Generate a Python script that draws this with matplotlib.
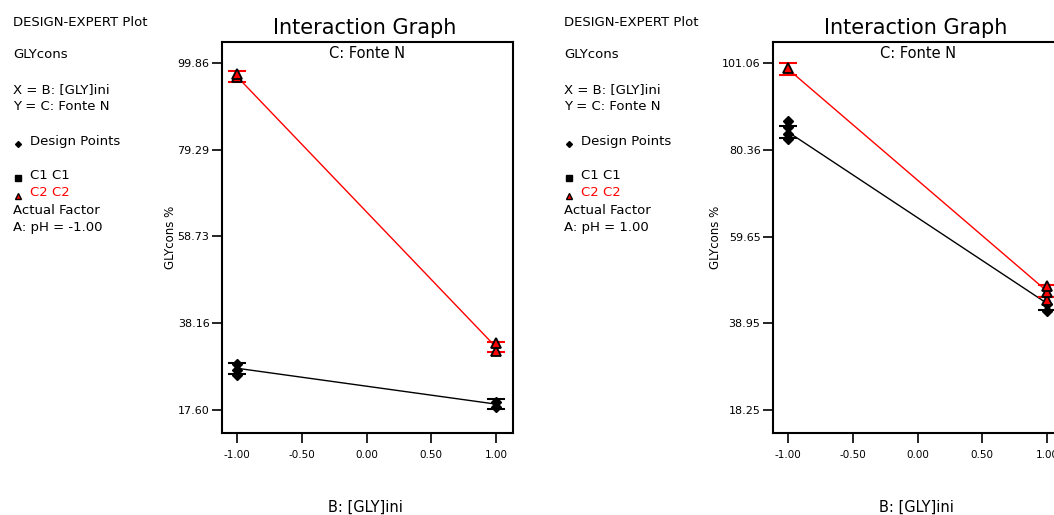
import numpy as np
import matplotlib
matplotlib.use('Agg')
import matplotlib.pyplot as plt

# ---------------------------------------------------------------------------
# Interaction of B ([GLY]ini) and C (Fonte N) on GLYcons, at two pH levels
# ---------------------------------------------------------------------------

x_levels = [-1.0, 1.0]
x_ticks = [-1.00, -0.50, 0.00, 0.50, 1.00]

# pH = -1.00
ph_low_label = "A: pH = -1.00"
ph_low_yticks = [17.60, 38.16, 58.73, 79.29, 99.86]
ph_low_ylim = (12.16, 104.8)
ph_low_c1_pred = [27.5, 19.0]
ph_low_c2_pred = [96.6, 32.5]
ph_low_c1_lsd = [1.3, 1.2]
ph_low_c2_lsd = [1.3, 1.2]
ph_low_c1_pts = [[26.0, 27.2, 28.6], [18.4, 19.4]]
ph_low_c2_pts = [[96.4, 97.2], [31.6, 33.4]]

# pH = 1.00
ph_high_label = "A: pH = 1.00"
ph_high_yticks = [18.25, 38.95, 59.65, 80.36, 101.06]
ph_high_ylim = (12.78, 106.06)
ph_high_c1_pred = [84.6, 43.7]
ph_high_c2_pred = [99.6, 46.6]
ph_high_c1_lsd = [1.4, 1.5]
ph_high_c2_lsd = [1.4, 1.4]
ph_high_c1_pts = [[82.8, 84.2, 85.8, 87.2], [42.0, 43.6]]
ph_high_c2_pts = [[99.8], [44.6, 46.4, 47.8]]

W, H = 1054, 515
FONT = 'DejaVu Sans'


def px_rect(left, top, right, bottom):
    return [left / W, 1 - bottom / H, (right - left) / W, (bottom - top) / H]


def side_notes(fig, x0, ph_label):
    def t(x, y, s, color='black'):
        fig.text(x / W, 1 - y / H, s, fontsize=9.5, color=color,
                 family=FONT, va='center', ha='left')
    t(x0, 22, 'DESIGN-EXPERT Plot')
    t(x0, 55, 'GLYcons')
    t(x0, 90, 'X = B: [GLY]ini')
    t(x0, 106, 'Y = C: Fonte N')
    t(x0 + 17, 141, 'Design Points')
    t(x0 + 17, 175, 'C1 C1')
    t(x0 + 17, 192, 'C2 C2', color='red')
    t(x0, 210, 'Actual Factor')
    t(x0, 227, ph_label)
    # legend glyphs
    gx = (x0 + 5) / W
    fig.lines.append(plt.Line2D([gx], [1 - 144 / H], marker='D', ms=3,
                                color='black', transform=fig.transFigure))
    fig.lines.append(plt.Line2D([gx], [1 - 178 / H], marker='s', ms=4,
                                color='black', transform=fig.transFigure))
    fig.lines.append(plt.Line2D([gx], [1 - 196 / H], marker='^', ms=4.5,
                                mfc='red', mec='black',
                                transform=fig.transFigure))


def interaction_panel(fig, rect, yticks, ylim, c1_pred, c2_pred,
                      c1_lsd, c2_lsd, c1_pts, c2_pts):
    ax = fig.add_axes(rect)

    ax.plot(x_levels, c1_pred, color='black', lw=1.0, zorder=2)
    ax.plot(x_levels, c2_pred, color='red', lw=1.0, zorder=2)

    ax.errorbar(x_levels, c1_pred, yerr=c1_lsd, fmt='none', ecolor='black',
                elinewidth=1.5, capsize=6.5, capthick=1.5, zorder=3)
    ax.errorbar(x_levels, c2_pred, yerr=c2_lsd, fmt='none', ecolor='red',
                elinewidth=1.5, capsize=6.5, capthick=1.5, zorder=3)

    for xv, pts in zip(x_levels, c1_pts):
        ax.plot([xv] * len(pts), pts, ls='none', marker='D', ms=5,
                color='black', zorder=4)
    for xv, pts in zip(x_levels, c2_pts):
        ax.plot([xv] * len(pts), pts, ls='none', marker='^', ms=6.5,
                mfc='red', mec='black', mew=1.3, zorder=4)

    ax.set_xlim(-1.116, 1.131)
    ax.set_ylim(*ylim)
    ax.set_xticks(x_ticks)
    ax.set_xticklabels([f'{v:.2f}' for v in x_ticks])
    ax.set_yticks(yticks)
    ax.set_yticklabels([f'{v:.2f}' for v in yticks])
    ax.tick_params(direction='out', length=7, width=1.2, colors='black')
    ax.tick_params(axis='x', labelsize=7.5, pad=5)
    ax.tick_params(axis='y', labelsize=8, pad=2)
    for s in ax.spines.values():
        s.set_linewidth(1.5)

    ax.set_ylabel('GLYcons %', fontsize=8.5, family=FONT, labelpad=0)
    ax.text(0.5, 1 - 11 / (rect[3] * H), 'C: Fonte N', transform=ax.transAxes,
            ha='center', va='center', fontsize=10.5, family=FONT)
    return ax


fig = plt.figure(figsize=(W / 100, H / 100), dpi=100)

panels = [
    (13, 222, 513, ph_low_label, ph_low_yticks, ph_low_ylim, ph_low_c1_pred,
     ph_low_c2_pred, ph_low_c1_lsd, ph_low_c2_lsd, ph_low_c1_pts, ph_low_c2_pts),
    (564, 773, 1064, ph_high_label, ph_high_yticks, ph_high_ylim, ph_high_c1_pred,
     ph_high_c2_pred, ph_high_c1_lsd, ph_high_c2_lsd, ph_high_c1_pts, ph_high_c2_pts),
]

for (note_x, left, right, ph_label, yticks, ylim, c1p, c2p, c1e, c2e,
     c1pts, c2pts) in panels:
    side_notes(fig, note_x, ph_label)
    rect = px_rect(left, 42, right, 433)
    interaction_panel(fig, rect, yticks, ylim, c1p, c2p, c1e, c2e, c1pts, c2pts)
    cx = left + 143
    fig.text(cx / W, 1 - 28 / H, 'Interaction Graph', fontsize=15,
             family=FONT, ha='center', va='center')
    fig.text(cx / W, 1 - 507 / H, 'B: [GLY]ini', fontsize=10.5,
             family=FONT, ha='center', va='center')

fig.savefig('out.png', dpi=100)
